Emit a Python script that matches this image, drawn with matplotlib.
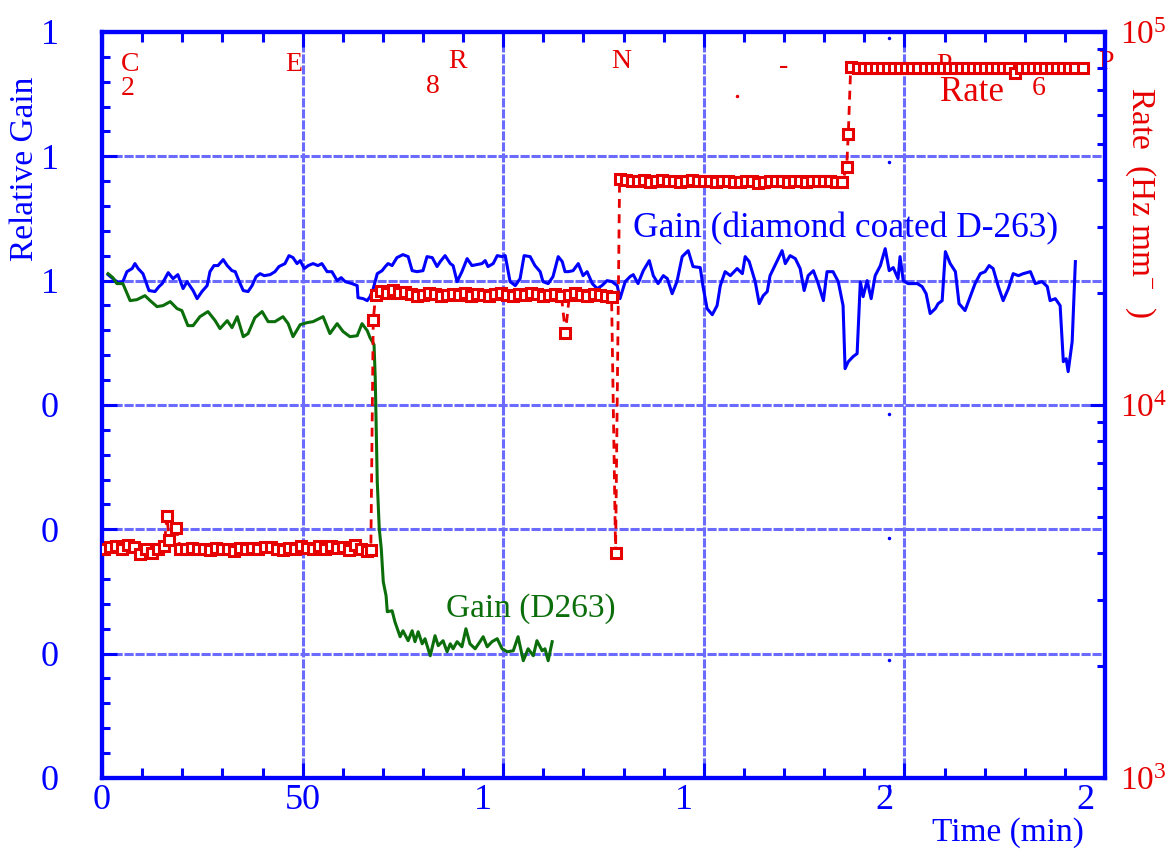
import matplotlib
matplotlib.use("Agg")
import matplotlib.pyplot as plt
from matplotlib.ticker import MultipleLocator, LogLocator, NullFormatter
from matplotlib.transforms import ScaledTranslation, blended_transform_factory

plt.rcParams['font.family'] = 'Liberation Serif'
plt.rcParams['mathtext.fontset'] = 'custom'
plt.rcParams['mathtext.rm'] = 'Liberation Serif'
plt.rcParams['mathtext.default'] = 'regular'

# ------------------------------------------------------------------
# datos
# ------------------------------------------------------------------
# ganancia relativa, vidrio D-263 con recubrimiento de diamante
t_diamond = [1.5, 2.7, 4.0, 5.2, 6.2, 7.5, 8.2, 9.0, 10.2, 11.7, 13.2, 14.2, 15.0, 16.5, 17.7,
             18.9, 20.2, 21.2, 22.7, 23.7, 24.9, 26.2, 26.9, 27.9, 28.9, 30.2, 31.2, 32.4, 33.2,
             34.2, 35.2, 36.4, 37.4, 38.4, 39.4, 40.4, 41.9, 43.1, 44.1, 45.6, 46.6, 47.6, 48.6,
             49.4, 50.4, 51.4, 52.6, 53.8, 54.8, 56.1, 57.3, 58.6, 59.6, 60.6, 62.3, 63.6, 63.8,
             65.1, 66.1, 66.8, 67.6, 68.6, 69.8, 70.6, 71.3, 72.3, 73.5, 75.0, 76.3, 77.3, 78.5,
             80.0, 81.0, 82.3, 83.5, 84.3, 85.5, 86.8, 87.5, 88.5, 89.7, 91.0, 92.2, 93.5, 94.7,
             95.5, 96.2, 97.5, 98.5, 99.7, 100.5, 101.7, 103.0, 104.2, 105.2, 106.7, 107.9, 109.2,
             109.9, 111.2, 112.4, 113.7, 114.7, 115.4, 116.2, 117.4, 118.7, 119.9, 120.9, 122.2,
             123.4, 124.6, 125.9, 127.1, 128.4, 129.1, 130.4, 131.6, 132.4, 133.6, 134.9, 136.4,
             137.4, 138.6, 139.9, 140.9, 142.1, 143.3, 144.6, 146.1, 147.3, 149.1, 149.8, 150.8,
             152.1, 153.3, 154.1, 155.3, 156.6, 158.3, 159.6, 160.3, 161.3, 162.8, 163.8, 164.8,
             165.8, 166.5, 168.3, 169.5, 170.3, 171.5, 172.8, 174.0, 175.0, 176.0, 177.3, 178.5,
             179.8, 180.7, 182.2, 183.5, 184.7, 185.2, 186.0, 187.2, 188.2, 189.0, 189.7, 190.7,
             191.7, 192.7, 194.0, 195.2, 196.2, 197.2, 198.4, 198.9, 199.7, 200.9, 203.2, 204.4,
             205.4, 206.4, 207.7, 208.4, 209.4, 210.2, 211.4, 212.7, 213.6, 215.1, 216.4, 217.6,
             218.9, 220.1, 221.1, 222.1, 223.4, 224.6, 225.9, 227.1, 228.4, 229.6, 231.4, 232.6,
             234.3, 235.6, 236.3, 237.6, 238.8, 239.6, 240.3, 240.8, 241.8, 242.6]
g_diamond = [1.0048, 1.0016, 0.9984, 0.9992, 1.0072, 1.0097, 1.0137, 1.0097, 1.0056, 0.9920, 0.9912,
             0.9952, 0.9976, 1.0064, 1.0016, 1.0048, 0.9936, 0.9992, 0.9920, 0.9855, 0.9912, 0.9960,
             1.0072, 1.0121, 1.0121, 1.0169, 1.0121, 1.0080, 1.0072, 0.9992, 0.9920, 0.9912, 0.9960,
             1.0032, 1.0056, 1.0040, 1.0048, 1.0072, 1.0113, 1.0137, 1.0201, 1.0185, 1.0137, 1.0161,
             1.0097, 1.0121, 1.0137, 1.0121, 1.0137, 1.0072, 1.0072, 1.0000, 1.0024, 0.9992, 0.9976,
             0.9960, 0.9863, 0.9855, 0.9839, 0.9871, 0.9936, 1.0056, 1.0080, 1.0113, 1.0137, 1.0121,
             1.0185, 1.0209, 1.0193, 1.0080, 1.0072, 1.0080, 1.0193, 1.0185, 1.0113, 1.0153, 1.0201,
             1.0137, 1.0121, 0.9992, 1.0072, 1.0177, 1.0121, 1.0129, 1.0137, 1.0161, 1.0113, 1.0137,
             1.0201, 1.0193, 1.0201, 0.9992, 0.9960, 1.0016, 1.0201, 1.0193, 1.0121, 1.0072, 0.9992,
             0.9976, 1.0032, 1.0193, 1.0153, 1.0072, 1.0072, 1.0080, 1.0137, 1.0040, 1.0072, 0.9976,
             0.9936, 0.9960, 1.0000, 0.9992, 0.9960, 0.9855, 0.9992, 1.0032, 1.0048, 0.9976, 1.0080,
             1.0161, 1.0040, 0.9976, 1.0040, 1.0016, 0.9895, 0.9992, 1.0193, 1.0241, 1.0113, 1.0105,
             0.9952, 0.9775, 0.9726, 0.9799, 0.9960, 1.0072, 1.0040, 1.0097, 1.0056, 1.0193, 1.0153,
             0.9992, 0.9815, 0.9879, 0.9912, 1.0040, 1.0161, 1.0241, 1.0137, 1.0201, 1.0177, 1.0097,
             0.9920, 1.0040, 1.0080, 0.9976, 0.9839, 1.0072, 1.0072, 0.9992, 0.9799, 0.9292, 0.9348,
             0.9389, 0.9413, 0.9992, 0.9871, 1.0000, 0.9855, 1.0040, 1.0121, 1.0257, 1.0080, 1.0105,
             1.0016, 1.0193, 1.0000, 0.9976, 0.9976, 0.9952, 0.9895, 0.9735, 0.9775, 0.9815, 0.9839,
             1.0233, 1.0137, 1.0072, 0.9815, 0.9759, 0.9871, 0.9976, 1.0056, 1.0072, 1.0121, 1.0097,
             0.9952, 0.9839, 0.9936, 1.0056, 1.0040, 1.0056, 1.0072, 0.9976, 0.9992, 0.9952, 0.9839,
             0.9855, 0.9799, 0.9348, 0.9372, 0.9268, 0.9509, 1.0153]

# ganancia relativa, vidrio D263 sin recubrimiento
t_d263 = [1.5, 2.7, 3.7, 5.2, 7.0, 8.7, 10.7, 12.0, 13.7, 15.2, 17.0, 18.7, 19.9, 21.4, 22.7, 24.4,
          26.4, 28.2, 29.4, 31.2, 32.4, 33.7, 35.2, 36.4, 38.1, 39.9, 41.4, 43.1, 45.1, 46.4, 47.6,
          49.4, 51.1, 52.6, 55.1, 56.8, 58.6, 60.1, 61.8, 63.6, 64.8, 66.1, 66.8, 67.8, 68.1, 68.6,
          69.1, 69.6, 70.1, 70.8, 71.1, 72.3, 73.0, 74.3, 75.0, 76.3, 77.3, 78.0, 78.8, 79.8, 80.5,
          81.8, 83.0, 83.8, 85.0, 86.0, 86.8, 87.5, 88.5, 89.7, 90.7, 91.7, 93.0, 94.2, 95.0, 96.0,
          97.2, 98.5, 99.7, 101.0, 102.5, 103.7, 105.0, 106.2, 107.5, 108.4, 109.7, 110.4, 111.2,
          112.2]
g_d263 = [1.0056, 1.0024, 0.9976, 0.9976, 0.9839, 0.9847, 0.9879, 0.9839, 0.9791, 0.9799, 0.9831,
          0.9775, 0.9759, 0.9638, 0.9638, 0.9710, 0.9751, 0.9678, 0.9614, 0.9678, 0.9622, 0.9710,
          0.9549, 0.9574, 0.9702, 0.9751, 0.9670, 0.9670, 0.9710, 0.9654, 0.9549, 0.9646, 0.9662,
          0.9670, 0.9710, 0.9574, 0.9654, 0.9590, 0.9549, 0.9557, 0.9654, 0.9598, 0.9541, 0.9485,
          0.9212, 0.8383, 0.8005, 0.7844, 0.7578, 0.7465, 0.7337, 0.7345, 0.7256, 0.7136, 0.7184,
          0.7104, 0.7184, 0.7096, 0.7176, 0.7079, 0.7120, 0.6983, 0.7144, 0.7064, 0.7104, 0.7015,
          0.7079, 0.7039, 0.7096, 0.7055, 0.7200, 0.7079, 0.7039, 0.7096, 0.7136, 0.7055, 0.7096,
          0.7120, 0.7039, 0.7015, 0.7023, 0.7136, 0.6943, 0.7039, 0.6983, 0.7104, 0.7023, 0.7039,
          0.6943, 0.7096]

# tasa de irradiacion (Hz mm^-2)
rate_t = [0.5, 2.0, 3.5, 5.0, 6.5, 8.0, 9.5, 11.0, 12.5, 14.0, 15.5, 16.2, 16.7, 18.5, 19.5, 21.0,
          22.5, 24.0, 25.5, 27.0, 28.5, 30.0, 31.5, 33.0, 34.5, 36.0, 37.5, 39.0, 40.5, 42.0, 43.5,
          45.0, 46.5, 48.0, 49.5, 51.0, 52.5, 54.0, 55.5, 57.0, 58.5, 60.0, 61.5, 63.0, 64.5, 66.0,
          67.0,
          67.6, 68.2, 69.5, 71.0, 72.5, 74.0, 75.5, 77.0, 78.5, 80.0, 81.5, 83.0, 84.5, 86.0, 87.5,
          89.0, 90.5, 92.0, 93.5, 95.0, 96.5, 98.0, 99.5, 101.0, 102.5, 104.0, 105.5, 107.0, 108.5,
          110.0, 111.5, 113.0, 114.5, 115.5, 116.5, 118.0, 119.5, 121.0, 122.5, 124.0, 125.5, 127.0,
          128.0,
          129.0, 130.5, 132.0, 133.5, 135.0, 136.5, 138.0, 139.5, 141.0, 142.5, 144.0, 145.5, 147.0,
          148.5, 150.0, 151.5, 153.0, 154.5, 156.0, 157.5, 159.0, 160.5, 162.0, 163.5, 165.0, 166.5,
          168.0, 169.5, 171.0, 172.5, 174.0, 175.5, 177.0, 178.5, 180.0, 181.5, 183.0, 184.5,
          185.6, 186.0,
          186.6, 188.5, 190.0, 191.5, 193.0, 194.5, 196.0, 197.5, 199.0, 200.5, 202.0, 203.5, 205.0,
          206.5, 208.0, 209.5, 211.0, 212.5, 214.0, 215.5, 217.0, 218.5, 220.0, 221.5, 223.0, 224.5,
          226.0, 227.5, 229.0, 230.5, 232.0, 233.5, 235.0, 236.5, 238.0, 239.5, 241.0, 242.5, 244.5]
rate_v = [4100, 4150, 4180, 4120, 4200, 4150, 3980, 4120, 4020, 4100, 4180, 5040, 4350, 4680, 4120,
          4100, 4140, 4100, 4120, 4080, 4140, 4120, 4100, 4060, 4140, 4120, 4140, 4100, 4160, 4150,
          4120, 4080, 4140, 4120, 4180, 4140, 4120, 4180, 4120, 4190, 4130, 4170, 4090, 4200, 4120,
          4060, 4080,
          16900, 19700, 20200, 20000, 20300, 19900, 20100, 19800, 19600, 19700, 19900, 19800, 19600,
          19700, 19800, 19700, 19900, 19600, 19800, 19700, 19600, 19800, 19900, 19700, 19600, 19800,
          19700, 19900, 19800, 19600, 19700, 19800, 19600, 15600, 19700, 19900, 19700, 19600, 19800,
          19700, 19600, 19500,
          4010,
          40300, 40000, 39800, 39900, 40100, 39700, 39900, 40000, 39800, 39900, 39700, 39900, 40000,
          39800, 39900, 39800, 39700, 39900, 39800, 39600, 39700, 39900, 39800, 39400, 39700, 39800,
          39900, 39800, 39700, 39900, 39800, 39700, 39900, 39800, 39900, 39800, 39700, 39600,
          43500, 53300,
          80300, 80100, 80000, 80200, 80100, 80000, 80100, 80200, 80000, 80100, 80000, 80200, 80100,
          80000, 80100, 80200, 80100, 80000, 80100, 80000, 80100, 80200, 80100, 80000, 80100, 80000,
          80100, 77600, 80000, 80100, 80200, 80000, 80100, 80000, 80100, 80200, 80000, 80100, 80100]

xtick_vals = [0, 50, 100, 150, 200, 250]
xtick_text = ['0', '50', '1', '1', '2', '2']       # etiquetas truncadas tal cual
ytick_vals = [0.6, 0.7, 0.8, 0.9, 1.0, 1.1, 1.2]
ytick_text = ['0', '0', '0', '0', '1', '1', '1']

# fragmentos de texto rojo sueltos dentro del marco (coords. de ejes)
frag_text = ['C', '2', 'E', 'R', '8', 'N', '-', 'P', '6', 'P']
frag_x = [0.028, 0.026, 0.191, 0.354, 0.330, 0.518, 0.680, 0.8395, 0.934, 1.001]
frag_y = [0.957, 0.9236, 0.957, 0.9598, 0.9263, 0.9598, 0.954, 0.9544, 0.9236, 0.9584]

# puntitos azules sueltos
dot_x = [0.7847] * 6
dot_y = [0.9920, 0.8257, 0.4879, 0.3217, 0.1582, -0.0107]

BLUE = '#0000ff'
RED = '#e60000'
GREEN = '#0b6e0b'
GRID = '#6b6bff'

# ------------------------------------------------------------------
fig = plt.figure(figsize=(11.7, 8.52), dpi=100)
ax = fig.add_axes([0.0872, 0.0869, 0.8573, 0.8756])
ax.set_xlim(0, 250)
ax.set_ylim(0.6, 1.2)

ax.set_xticks(xtick_vals)
ax.set_xticklabels([])
ax.xaxis.set_minor_locator(MultipleLocator(10))
ax.set_yticks(ytick_vals)
ax.set_yticklabels(ytick_text)
ax.yaxis.set_minor_locator(MultipleLocator(0.02))

ax.tick_params(which='both', direction='in', color=BLUE, top=True, right=False,
               labelcolor=BLUE, labelsize=26)
ax.tick_params(which='major', length=11, width=2.2)
ax.tick_params(which='minor', length=6, width=2.2)
ax.tick_params(axis='x', which='minor', length=7.5)
ax.tick_params(axis='y', pad=31)

ax.grid(True, which='major', color=GRID, linestyle=(0, (3, 0.6)), linewidth=2.2)

# etiquetas del eje x (las de tres cifras quedan truncadas y corridas)
trans_x = blended_transform_factory(ax.transData, ax.transAxes)
for v, s in zip(xtick_vals, xtick_text):
    shift = 0 if v < 100 else -20
    tr = trans_x + ScaledTranslation(shift / 100, 0, fig.dpi_scale_trans)
    ax.text(v, -0.008, s, transform=tr, ha='center', va='top',
            fontsize=26, color=BLUE)

ax.plot(t_diamond, g_diamond, color=BLUE, linewidth=2.2, zorder=3)
ax.plot(t_d263, g_d263, color=GREEN, linewidth=2.2, zorder=3)

ax.text(185.4, 1.0418, 'Gain (diamond coated D-263)', color=BLUE, fontsize=25.5,
        ha='center', va='center')
ax.text(106.9, 0.7361, 'Gain (D263)', color=GREEN, fontsize=24, ha='center', va='center')

for s, x, y in zip(frag_text, frag_x, frag_y):
    ax.text(x, y, s, transform=ax.transAxes, color=RED, fontsize=20,
            ha='center', va='center', clip_on=False)
ax.text(0.8674, 0.9182, 'Rate', transform=ax.transAxes, color=RED, fontsize=25,
        ha='center', va='center')
ax.plot([0.6331], [0.914], '.', color=RED, markersize=3, transform=ax.transAxes)
ax.plot(dot_x, dot_y, '.', color=BLUE, markersize=3, transform=ax.transAxes, clip_on=False)

# eje derecho: tasa en escala log
ax2 = ax.twinx()
ax2.set_yscale('log')
ax2.set_ylim(1e3, 1e5)
ax2.yaxis.set_major_locator(LogLocator(base=10))
ax2.yaxis.set_minor_locator(LogLocator(base=10, subs=range(2, 10)))
ax2.yaxis.set_minor_formatter(NullFormatter())
ax2.tick_params(which='both', direction='in', color=BLUE, labelcolor=RED, labelsize=24, pad=11)
ax2.tick_params(which='major', length=11, width=2.2)
ax2.tick_params(which='minor', length=6, width=2.2)

ax2.plot(rate_t, rate_v, color=RED, linestyle='--', dashes=(3.2, 2.3), linewidth=2.0,
         marker='s', markersize=6.5, markerfacecolor='white', markeredgecolor=RED,
         markeredgewidth=2.2, zorder=4)

for a in (ax, ax2):
    for sp in a.spines.values():
        sp.set_color(BLUE)
        sp.set_linewidth(3)

fig.text(25 / 1170, 1 - 169 / 852, 'Relative Gain', rotation=90, color=BLUE, fontsize=24,
         ha='center', va='center')
fig.text(1140 / 1170, 1 - 202 / 852, 'Rate  (Hz mm$^{-}$  )', rotation=270, color=RED,
         fontsize=24, ha='center', va='center')
fig.text(1008 / 1170, 1 - 833 / 852, 'Time (min)', color=BLUE, fontsize=24,
         ha='center', va='center')

fig.savefig('out.png', dpi=100)
